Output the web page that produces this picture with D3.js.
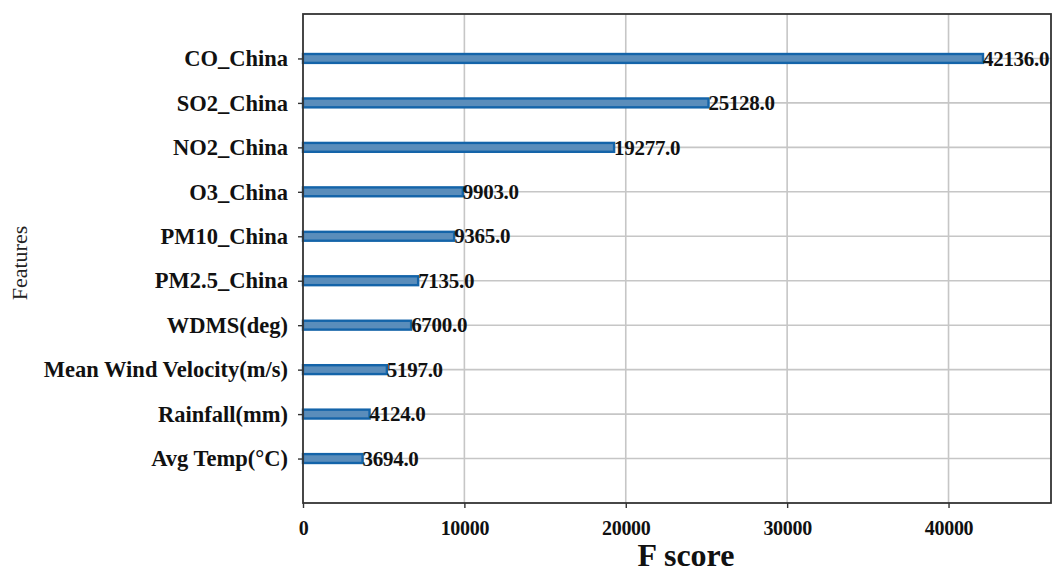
<!DOCTYPE html>
<html>
<head>
<meta charset="utf-8">
<script src="https://cdn.jsdelivr.net/npm/d3@7"></script>
<style>
  html, body { margin: 0; padding: 0; background: #fff; }
  svg { display: block; }
  text { font-family: "Liberation Serif", "Times New Roman", serif; }
</style>
</head>
<body>
<svg id="chart" width="1055" height="575"></svg>
<script>
// Feature importance (F score), listed bottom to top
const features = [
  "Avg Temp(°C)", "Rainfall(mm)", "Mean Wind Velocity(m/s)", "WDMS(deg)",
  "PM2.5_China", "PM10_China", "O3_China", "NO2_China", "SO2_China", "CO_China"
];
const fScores = [3694, 4124, 5197, 6700, 7135, 9365, 9903, 19277, 25128, 42136];
const xTicks = [0, 10000, 20000, 30000, 40000];

const svg = d3.select("#chart");
const margin = { left: 303, right: 4, top: 14, bottom: 72 };
const W = 1055, H = 575;
const plotW = W - margin.left - margin.right;
const plotH = H - margin.top - margin.bottom;

const x = d3.scaleLinear()
  .domain([0, d3.max(fScores) * 1.1])
  .range([0, plotW]);
const y = d3.scaleLinear()
  .domain([-1, features.length])
  .range([plotH, 0]);

const g = svg.append("g").attr("transform", `translate(${margin.left},${margin.top})`);

// grid
g.append("g").selectAll("line.vg").data(xTicks.slice(1)).join("line")
  .attr("x1", d => x(d)).attr("x2", d => x(d))
  .attr("y1", 0).attr("y2", plotH)
  .attr("stroke", "#c6c6c6").attr("stroke-width", 1.6);
g.append("g").selectAll("line.hg").data(features).join("line")
  .attr("x1", 0).attr("x2", plotW)
  .attr("y1", (d, i) => y(i)).attr("y2", (d, i) => y(i))
  .attr("stroke", "#c6c6c6").attr("stroke-width", 1.6);

// bars
const barH = y(0) - y(0.2);
g.append("g").selectAll("rect").data(fScores).join("rect")
  .attr("x", 0)
  .attr("y", (d, i) => y(i) - barH / 2)
  .attr("width", d => x(d))
  .attr("height", barH)
  .attr("fill", "#5a8dbb")
  .attr("stroke", "#1464a9")
  .attr("stroke-width", 2.4);

// value labels
g.append("g").selectAll("text").data(fScores).join("text")
  .attr("x", d => x(d))
  .attr("y", (d, i) => y(i))
  .attr("dy", "0.34em")
  .attr("font-size", 21)
  .attr("font-weight", "bold")
  .attr("letter-spacing", -0.3)
  .attr("fill", "#111")
  .text(d => d.toFixed(1));

// axes
const xAxis = d3.axisBottom(x).tickValues(xTicks).tickSize(5).tickPadding(13)
  .tickFormat(d3.format("d"));
const gx = g.append("g").attr("transform", `translate(0,${plotH})`).call(xAxis);
gx.select(".domain").remove();
gx.selectAll("line").attr("stroke", "#333").attr("stroke-width", 1.4);
gx.selectAll("text").attr("font-size", 20).attr("font-weight", "bold")
  .attr("letter-spacing", -0.3).attr("fill", "#111")
  .style("font-family", "'Liberation Serif', serif");

const yAxis = d3.axisLeft(y).tickValues(d3.range(features.length))
  .tickFormat(i => features[i]).tickSize(5).tickPadding(10);
const gy = g.append("g").call(yAxis);
gy.select(".domain").remove();
gy.selectAll("line").attr("stroke", "#333").attr("stroke-width", 1.4);
gy.selectAll("text").attr("font-size", 22.5).attr("font-weight", "bold")
  .attr("fill", "#111").style("font-family", "'Liberation Serif', serif");

// frame
g.append("rect").attr("x", 0).attr("y", 0).attr("width", plotW).attr("height", plotH)
  .attr("fill", "none").attr("stroke", "#333").attr("stroke-width", 1.8);

// axis titles
svg.append("text")
  .attr("x", 686).attr("y", 566)
  .attr("text-anchor", "middle")
  .attr("font-size", 32).attr("font-weight", "bold").attr("fill", "#111")
  .text("F score");
svg.append("text")
  .attr("transform", `translate(27,263) rotate(-90)`)
  .attr("text-anchor", "middle")
  .attr("font-size", 22).attr("fill", "#222")
  .text("Features");
</script>
</body>
</html>
